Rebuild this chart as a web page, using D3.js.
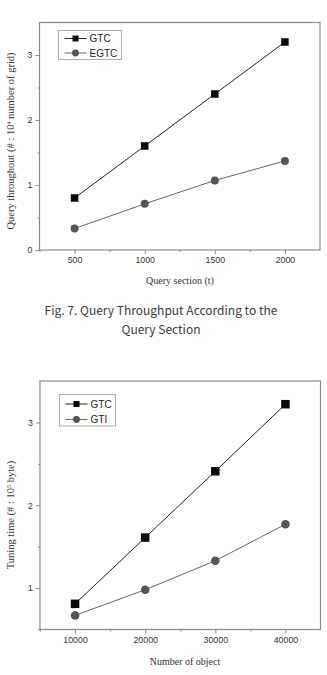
<!DOCTYPE html>
<html>
<head>
<meta charset="utf-8">
<script src="https://cdn.jsdelivr.net/npm/d3@7"></script>
<style>
  body { margin: 0; background: #fff; }
  svg { display: block; }
</style>
</head>
<body>
<div id="view"></div>
<script>
// fig 7 data
const sectionX = [500, 1000, 1500, 2000];
const gtcSection = [0.8, 1.6, 2.4, 3.2];
const egtcSection = [0.33, 0.71, 1.07, 1.37];
const sectionXTicks = [500, 1000, 1500, 2000];
const sectionYTicks = [0, 1, 2, 3];

// second chart data
const objectX = [10000, 20000, 30000, 40000];
const gtcObject = [0.81, 1.61, 2.41, 3.22];
const gtiObject = [0.67, 0.98, 1.33, 1.77];
const objectXTicks = [10000, 20000, 30000, 40000];
const objectYTicks = [1, 2, 3];

const captionLines = ["Fig. 7. Query Throughput According to the", "Query Section"];

const svg = d3.select("#view").append("svg")
    .attr("width", 327)
    .attr("height", 675);

function drawChart(opt) {
    const x = d3.scaleLinear().domain(opt.xDomain).range([opt.left, opt.right]);
    const y = d3.scaleLinear().domain(opt.yDomain).range([opt.bottom, opt.top]);
    const g = svg.append("g");

    // frame
    g.append("rect")
        .attr("x", opt.left).attr("y", opt.top)
        .attr("width", opt.right - opt.left).attr("height", opt.bottom - opt.top)
        .attr("fill", "none").attr("stroke", "#8a8a8a").attr("stroke-width", 1.2);

    // minor ticks
    const xMinor = opt.xTicks.slice(1).map((d, i) => (d + opt.xTicks[i]) / 2);
    xMinor.push(opt.xTicks[0] - (opt.xTicks[1] - opt.xTicks[0]) / 2);
    const yMinor = opt.yTicks.map(d => d + 0.5).filter(d => d < opt.yDomain[1]);
    if (opt.yTicks[0] - 0.5 >= opt.yDomain[0]) yMinor.push(opt.yTicks[0] - 0.5);

    g.append("g")
        .attr("transform", `translate(0, ${opt.bottom})`)
        .call(d3.axisBottom(x).tickValues(opt.xTicks).tickSize(4).tickPadding(3).tickFormat(d3.format("d")));
    g.append("g")
        .attr("transform", `translate(0, ${opt.bottom})`)
        .call(d3.axisBottom(x).tickValues(xMinor).tickSize(2).tickFormat(""));
    g.append("g")
        .attr("transform", `translate(${opt.left}, 0)`)
        .call(d3.axisLeft(y).tickValues(opt.yTicks).tickSize(4).tickPadding(3).tickFormat(d3.format("d")));
    g.append("g")
        .attr("transform", `translate(${opt.left}, 0)`)
        .call(d3.axisLeft(y).tickValues(yMinor).tickSize(2).tickFormat(""));

    g.selectAll(".domain").remove();
    g.selectAll(".tick line").attr("stroke", "#8a8a8a");
    g.selectAll(".tick text")
        .attr("fill", "#333")
        .style("font-family", "'Liberation Sans', Arial, sans-serif")
        .style("font-size", "8.8px");

    // series
    const line = d3.line().x(d => x(d[0])).y(d => y(d[1]));
    const s1 = opt.xs.map((d, i) => [d, opt.s1[i]]);
    const s2 = opt.xs.map((d, i) => [d, opt.s2[i]]);

    g.append("path").datum(s2).attr("d", line)
        .attr("fill", "none").attr("stroke", "#666").attr("stroke-width", 1);
    g.append("path").datum(s1).attr("d", line)
        .attr("fill", "none").attr("stroke", "#222").attr("stroke-width", 1);

    g.selectAll(".pt2").data(s2).enter().append("circle")
        .attr("cx", d => x(d[0])).attr("cy", d => y(d[1]))
        .attr("r", opt.r).attr("fill", "#555");
    g.selectAll(".pt1").data(s1).enter().append("rect")
        .attr("x", d => x(d[0]) - opt.sq / 2).attr("y", d => y(d[1]) - opt.sq / 2)
        .attr("width", opt.sq).attr("height", opt.sq).attr("fill", "#0a0a0a");

    // legend
    const lg = g.append("g").attr("transform", `translate(${opt.legend[0]}, ${opt.legend[1]})`);
    lg.append("rect").attr("x", 0).attr("y", 0)
        .attr("width", opt.legend[2]).attr("height", opt.legend[3])
        .attr("fill", "#fff").attr("stroke", "#999").attr("stroke-width", 0.8);
    opt.legendRows.forEach((ry, i) => {
        lg.append("line").attr("x1", 6).attr("x2", 28).attr("y1", ry).attr("y2", ry)
            .attr("stroke", i === 0 ? "#222" : "#666").attr("stroke-width", 1);
        if (i === 0) {
            lg.append("rect").attr("x", 14).attr("y", ry - 3).attr("width", 6).attr("height", 6).attr("fill", "#0a0a0a");
        } else {
            lg.append("circle").attr("cx", 17).attr("cy", ry).attr("r", 3.4).attr("fill", "#555");
        }
        lg.append("text").attr("x", 31).attr("y", ry + 3.6)
            .attr("fill", "#222")
            .style("font-family", "'Liberation Sans', Arial, sans-serif")
            .style("font-size", "10px")
            .text(opt.names[i]);
    });

    // axis titles
    g.append("text")
        .attr("x", opt.xTitle[0]).attr("y", opt.xTitle[1])
        .attr("text-anchor", "middle").attr("fill", "#333")
        .style("font-family", "'Liberation Serif', 'Times New Roman', serif")
        .style("font-size", "10px")
        .text(opt.xLabel);

    const yt = g.append("text")
        .attr("transform", `translate(${opt.yTitle[0]}, ${opt.yTitle[1]}) rotate(-90)`)
        .attr("text-anchor", "middle").attr("fill", "#333")
        .style("font-family", "'Liberation Serif', 'Times New Roman', serif")
        .style("font-size", "10.5px");
    yt.append("tspan").text(opt.yLabel[0]);
    yt.append("tspan").attr("baseline-shift", "super").style("font-size", "6px").text(opt.yLabel[1]);
    yt.append("tspan").text(opt.yLabel[2]);
}

drawChart({
    left: 39.5, right: 320, top: 22.5, bottom: 250,
    xDomain: [250, 2250], yDomain: [0, 3.5],
    xTicks: sectionXTicks, yTicks: sectionYTicks,
    xs: sectionX, s1: gtcSection, s2: egtcSection,
    sq: 7.5, r: 4,
    names: ["GTC", "EGTC"],
    legend: [58.5, 30.5, 63, 29], legendRows: [8, 22.5],
    xLabel: "Query section (t)", xTitle: [180, 284],
    yLabel: ["Query throughout  (# : 10", "4", " number of grid)"], yTitle: [14, 141]
});

drawChart({
    left: 40, right: 320.5, top: 381, bottom: 629.5,
    xDomain: [5000, 45000], yDomain: [0.5, 3.5],
    xTicks: objectXTicks, yTicks: objectYTicks,
    xs: objectX, s1: gtcObject, s2: gtiObject,
    sq: 8.5, r: 4.3,
    names: ["GTC", "GTI"],
    legend: [59.5, 394.5, 56, 31.5], legendRows: [9.5, 25],
    xLabel: "Number of object", xTitle: [185, 665],
    yLabel: ["Tuning time (# : 10", "5", " byte)"], yTitle: [14, 515]
});

// caption
svg.append("g")
    .style("font-family", "'Noto Sans CJK KR', 'Noto Sans', sans-serif")
    .style("font-size", "12px")
    .attr("fill", "#3a3a3a")
    .selectAll("text").data(captionLines).enter().append("text")
    .attr("x", 161).attr("y", (d, i) => 315 + i * 19)
    .attr("text-anchor", "middle")
    .text(d => d);
</script>
</body>
</html>
